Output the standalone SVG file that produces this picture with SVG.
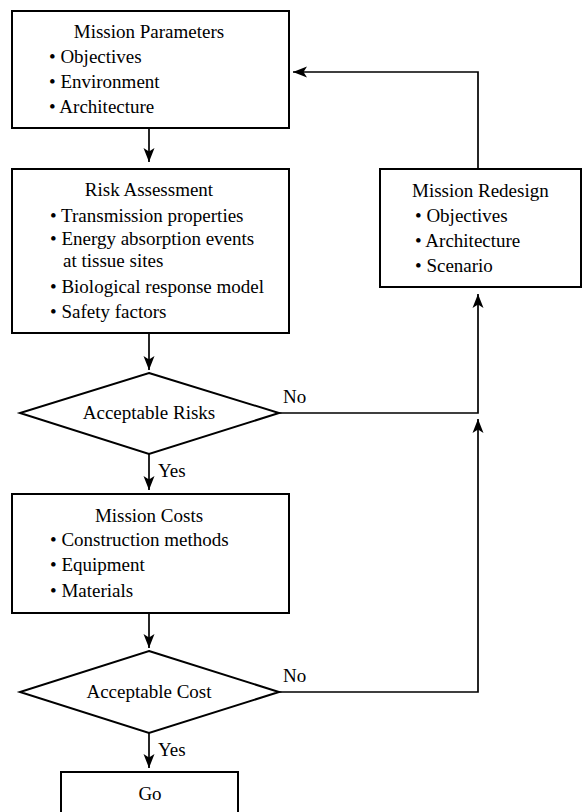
<svg xmlns="http://www.w3.org/2000/svg" width="584" height="812" viewBox="0 0 584 812">
<style>
.box{fill:#fff;stroke:#000;stroke-width:2}
.ln{fill:none;stroke:#000;stroke-width:1.7}
text{font-family:"Liberation Serif","Times New Roman",serif;font-size:19px;fill:#000}
.c{text-anchor:middle}
</style>
<defs>
<marker id="ah" viewBox="-1 -7 16 14" refX="14" refY="0" markerWidth="16" markerHeight="14" markerUnits="userSpaceOnUse" orient="auto">
<path d="M0,-5.5 L14,0 L0,5.5 L3.5,0 Z" fill="#000"/>
</marker>
</defs>
<rect width="584" height="812" fill="#fff"/>
<g id="connectors">
<path class="ln" d="M149,128 V162" marker-end="url(#ah)"/>
<path class="ln" d="M149,333 V370" marker-end="url(#ah)"/>
<path class="ln" d="M149,454 V490" marker-end="url(#ah)"/>
<path class="ln" d="M149,613 V648" marker-end="url(#ah)"/>
<path class="ln" d="M149,733 V768" marker-end="url(#ah)"/>
<path class="ln" d="M279,413 H478 V294" marker-end="url(#ah)"/>
<path class="ln" d="M279,692 H478 V419" marker-end="url(#ah)"/>
<path class="ln" d="M478,169 V72 H293" marker-end="url(#ah)"/>
<text x="283" y="403">No</text>
<text x="283" y="682">No</text>
<text x="158" y="477">Yes</text>
<text x="158" y="756">Yes</text>
</g>
<g id="mission-parameters">
<rect class="box" x="12" y="11" width="277" height="117"/>
<text class="c" x="149" y="38">Mission Parameters</text>
<text x="49" y="63">• Objectives</text>
<text x="49" y="88">• Environment</text>
<text x="49" y="113">• Architecture</text>
</g>
<g id="risk-assessment">
<rect class="box" x="12" y="169" width="277" height="164"/>
<text class="c" x="149" y="196">Risk Assessment</text>
<text x="50" y="222">• Transmission properties</text>
<text x="50" y="245">• Energy absorption events</text>
<text x="63" y="267">at tissue sites</text>
<text x="50" y="293">• Biological response model</text>
<text x="50" y="318">• Safety factors</text>
</g>
<g id="acceptable-risks">
<polygon class="box" points="149,373 279,413 149,454 20,413"/>
<text class="c" x="149" y="419">Acceptable Risks</text>
</g>
<g id="mission-costs">
<rect class="box" x="12" y="494" width="277" height="119"/>
<text class="c" x="149" y="522">Mission Costs</text>
<text x="50" y="546">• Construction methods</text>
<text x="50" y="571">• Equipment</text>
<text x="50" y="597">• Materials</text>
</g>
<g id="acceptable-cost">
<polygon class="box" points="149,651 279,692 149,733 20,692"/>
<text class="c" x="149" y="698">Acceptable Cost</text>
</g>
<g id="go">
<rect class="box" x="61" y="772" width="177" height="60"/>
<text class="c" x="150" y="800">Go</text>
</g>
<g id="mission-redesign">
<rect class="box" x="380" y="169" width="201" height="118"/>
<text x="412" y="197">Mission Redesign</text>
<text x="415" y="222">• Objectives</text>
<text x="415" y="247">• Architecture</text>
<text x="415" y="272">• Scenario</text>
</g>
</svg>
